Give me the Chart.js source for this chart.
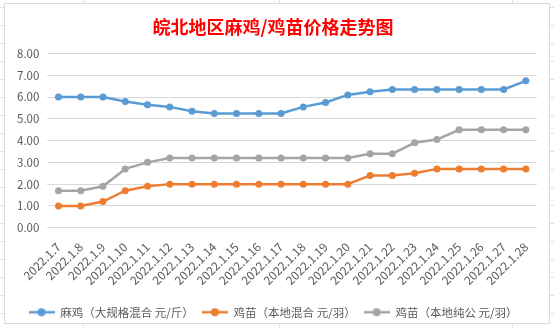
<!DOCTYPE html>
<html>
<head>
<meta charset="utf-8">
<script src="https://cdn.jsdelivr.net/npm/chart.js@4/dist/chart.umd.min.js"></script>
<style>
    html, body { margin: 0; padding: 0; }
    body { width: 554px; height: 328px; position: relative; overflow: hidden; background: #fff; }
    .sheet {
        position: absolute; left: 0; top: 0; width: 554px; height: 328px;
        background-image:
            linear-gradient(#e2e2e2 1px, transparent 1px),
            linear-gradient(90deg, transparent 83px, #e2e2e2 83px, #e2e2e2 84px, transparent 84px,
                transparent 279px, #e2e2e2 279px, #e2e2e2 280px, transparent 280px,
                transparent 512px, #e2e2e2 512px, #e2e2e2 513px, transparent 513px);
        background-size: 100% 18px, 100% 100%;
        background-position: 0 7px, 0 0;
    }
    #wrap {
        position: absolute; left: 4px; top: 3px; width: 544px; height: 319px;
        border: 1px solid #d9d9d9; background: #fff;
    }
</style>
</head>
<body>
<div class="sheet"></div>
<div id="wrap"><canvas id="myChart"></canvas></div>
<script>
const dates = ['2022.1.7', '2022.1.8', '2022.1.9', '2022.1.10', '2022.1.11', '2022.1.12', '2022.1.13',
    '2022.1.14', '2022.1.15', '2022.1.16', '2022.1.17', '2022.1.18', '2022.1.19', '2022.1.20',
    '2022.1.21', '2022.1.22', '2022.1.23', '2022.1.24', '2022.1.25', '2022.1.26', '2022.1.27', '2022.1.28'];

// 麻鸡（大规格混合 元/斤）
const majiPrice = [6.0, 6.0, 6.0, 5.8, 5.65, 5.55, 5.35, 5.25, 5.25, 5.25, 5.25,
    5.55, 5.75, 6.1, 6.25, 6.35, 6.35, 6.35, 6.35, 6.35, 6.35, 6.75];
// 鸡苗（本地混合 元/羽）
const miaoMixPrice = [1.0, 1.0, 1.2, 1.7, 1.9, 2.0, 2.0, 2.0, 2.0, 2.0, 2.0,
    2.0, 2.0, 2.0, 2.4, 2.4, 2.5, 2.7, 2.7, 2.7, 2.7, 2.7];
// 鸡苗（本地纯公 元/羽）
const miaoMalePrice = [1.7, 1.7, 1.9, 2.7, 3.0, 3.2, 3.2, 3.2, 3.2, 3.2, 3.2,
    3.2, 3.2, 3.2, 3.4, 3.4, 3.9, 4.05, 4.5, 4.5, 4.5, 4.5];

const seriesNames = ['麻鸡（大规格混合 元/斤）', '鸡苗（本地混合 元/羽）', '鸡苗（本地纯公 元/羽）'];
const seriesColors = ['#5B9BD5', '#ED7D31', '#A5A5A5'];

const fontFamily = '"Noto Sans CJK SC", "Noto Sans", sans-serif';

// legend symbol: short line with a dot, like the Excel legend
function legendIcon(color) {
    const c = document.createElement('canvas');
    c.width = 26;
    c.height = 10;
    const g = c.getContext('2d');
    g.strokeStyle = color;
    g.lineWidth = 2.5;
    g.beginPath();
    g.moveTo(0, 5);
    g.lineTo(26, 5);
    g.stroke();
    g.fillStyle = color;
    g.beginPath();
    g.arc(13, 5, 4, 0, Math.PI * 2);
    g.fill();
    return c;
}
const icons = seriesColors.map(legendIcon);

function makeSet(i, values) {
    return {
        label: seriesNames[i],
        data: values,
        borderColor: seriesColors[i],
        backgroundColor: seriesColors[i],
        borderWidth: 2.5,
        pointRadius: 3.5,
        pointBorderWidth: 0,
        tension: 0
    };
}

// push the legend a little lower, closer to the bottom edge like in Excel
const legendNudge = {
    id: 'legendNudge',
    afterLayout(chart) {
        chart.legend.top += 7;
        chart.legend.bottom += 7;
    }
};

const ctx = document.getElementById('myChart').getContext('2d');
const myChart = new Chart(ctx, {
    type: 'line',
    data: {
        labels: dates,
        datasets: [
            makeSet(0, majiPrice),
            makeSet(1, miaoMixPrice),
            makeSet(2, miaoMalePrice)
        ]
    },
    options: {
        responsive: true,
        maintainAspectRatio: false,
        animation: false,
        layout: {
            padding: { left: 4, right: 12, top: 0, bottom: 2 }
        },
        plugins: {
            title: {
                display: true,
                text: '皖北地区麻鸡/鸡苗价格走势图',
                color: '#FF0000',
                font: { family: fontFamily, size: 18, weight: 'bold' },
                padding: { top: 12, bottom: 16 }
            },
            legend: {
                position: 'bottom',
                labels: {
                    color: '#595959',
                    font: { family: fontFamily, size: 11.5 },
                    usePointStyle: true,
                    pointStyleWidth: 26,
                    padding: 8,
                    generateLabels(chart) {
                        const items = Chart.defaults.plugins.legend.labels.generateLabels(chart);
                        items.forEach((it, i) => { it.pointStyle = icons[i]; });
                        return items;
                    }
                }
            },
            tooltip: { enabled: false }
        },
        scales: {
            x: {
                offset: true,
                grid: { display: false },
                border: { display: false },
                ticks: {
                    color: '#595959',
                    font: { family: fontFamily, size: 12 },
                    minRotation: 45,
                    maxRotation: 45,
                    autoSkip: false,
                    padding: 4
                }
            },
            y: {
                min: 0,
                max: 8,
                grid: { color: '#d9d9d9', drawTicks: false },
                border: { display: false },
                ticks: {
                    stepSize: 1,
                    color: '#595959',
                    font: { family: fontFamily, size: 11.5 },
                    padding: 8,
                    callback: (v) => v.toFixed(2)
                }
            }
        }
    },
    plugins: [legendNudge]
});
</script>
</body>
</html>
